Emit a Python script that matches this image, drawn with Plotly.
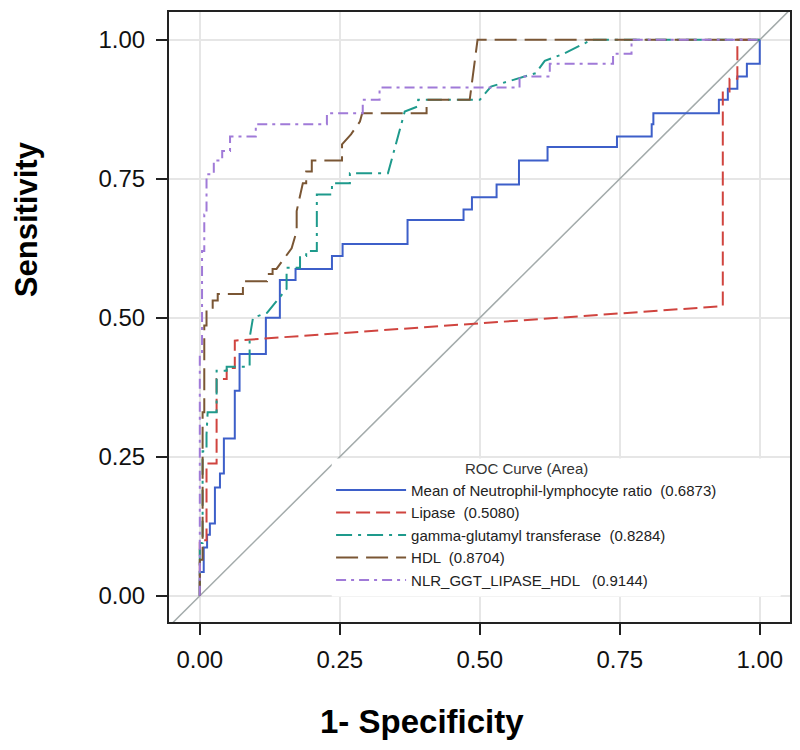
import plotly.graph_objects as go

# ROC curves (x = 1 - specificity, y = sensitivity)
nlr_x = [0, 0, 0.007, 0.007, 0.013, 0.013, 0.018, 0.018, 0.027, 0.027, 0.036, 0.036, 0.043, 0.043,
         0.0625, 0.0625, 0.071, 0.071, 0.118, 0.118, 0.143, 0.143, 0.171, 0.171, 0.236, 0.236,
         0.255, 0.255, 0.371, 0.371, 0.471, 0.471, 0.486, 0.486, 0.53, 0.53, 0.57, 0.57, 0.621,
         0.621, 0.745, 0.745, 0.807, 0.807, 0.81, 0.81, 0.927, 0.927, 0.943, 0.943, 0.96, 0.96,
         0.977, 0.977, 1.0, 1.0]
nlr_y = [0, 0.043, 0.043, 0.087, 0.087, 0.11, 0.11, 0.13, 0.13, 0.195, 0.195, 0.22, 0.22, 0.283,
         0.283, 0.369, 0.369, 0.435, 0.435, 0.5, 0.5, 0.568, 0.568, 0.588, 0.588, 0.611,
         0.611, 0.633, 0.633, 0.676, 0.676, 0.695, 0.695, 0.717, 0.717, 0.74, 0.74, 0.783, 0.783,
         0.807, 0.807, 0.826, 0.826, 0.848, 0.848, 0.868, 0.868, 0.892, 0.892, 0.912, 0.912, 0.934,
         0.934, 0.957, 0.957, 1.0]

lipase_x = [0, 0, 0.012, 0.012, 0.03, 0.03, 0.048, 0.048, 0.0625, 0.0625, 0.934, 0.934, 0.946,
            0.946, 0.96, 0.96, 1.0]
lipase_y = [0, 0.1, 0.1, 0.238, 0.238, 0.39, 0.39, 0.41, 0.41, 0.459, 0.521, 0.907, 0.907,
            0.93, 0.93, 1.0, 1.0]

ggt_x = [0, 0, 0.005, 0.005, 0.012, 0.012, 0.014, 0.03, 0.03, 0.048, 0.048, 0.089, 0.089, 0.095,
         0.12, 0.155, 0.155, 0.179, 0.179, 0.19, 0.19, 0.209, 0.209, 0.236, 0.236, 0.268, 0.268,
         0.336, 0.366, 0.389, 0.39, 0.5, 0.52, 0.55, 0.57, 0.60, 0.616, 0.65, 0.70, 1.0]
ggt_y = [0, 0.095, 0.095, 0.26, 0.26, 0.29, 0.33, 0.33, 0.405, 0.405, 0.412, 0.412, 0.464, 0.5,
         0.509, 0.552, 0.59, 0.59, 0.611, 0.611, 0.62, 0.62, 0.722, 0.722, 0.742, 0.742, 0.76,
         0.76, 0.871, 0.88, 0.892, 0.892, 0.916, 0.925, 0.93, 0.94, 0.962, 0.975, 1.0, 1.0]

hdl_x = [0, 0, 0.005, 0.005, 0.008, 0.008, 0.012, 0.012, 0.023, 0.023, 0.032, 0.032, 0.077, 0.077,
         0.12, 0.12, 0.13, 0.13, 0.137, 0.164, 0.173, 0.173, 0.184, 0.19, 0.19, 0.2, 0.2, 0.254,
         0.254, 0.27, 0.286, 0.29, 0.405, 0.405, 0.482, 0.49, 0.496, 1.0]
hdl_y = [0, 0.065, 0.065, 0.33, 0.33, 0.486, 0.486, 0.518, 0.518, 0.531, 0.531, 0.543, 0.543, 0.566,
         0.566, 0.579, 0.579, 0.588, 0.588, 0.625, 0.656, 0.692, 0.742, 0.742, 0.763, 0.763, 0.783,
         0.783, 0.812, 0.83, 0.853, 0.868, 0.868, 0.892, 0.892, 0.95, 1.0, 1.0]

combo_x = [0, 0, 0.004, 0.004, 0.008, 0.008, 0.012, 0.012, 0.025, 0.025, 0.04, 0.04, 0.054, 0.054,
           0.1, 0.1, 0.227, 0.227, 0.291, 0.291, 0.321, 0.321, 0.571, 0.571, 0.625, 0.625, 0.738,
           0.738, 0.771, 0.771, 1.0]
combo_y = [0, 0.435, 0.435, 0.62, 0.62, 0.686, 0.686, 0.758, 0.758, 0.783, 0.783, 0.80, 0.80,
           0.826, 0.826, 0.848, 0.848, 0.868, 0.868, 0.892, 0.892, 0.914, 0.914, 0.934, 0.934,
           0.957, 0.957, 0.975, 0.975, 1.0, 1.0]

names = ["Mean of Neutrophil-lymphocyte ratio  (0.6873)", "Lipase  (0.5080)",
         "gamma-glutamyl transferase  (0.8284)", "HDL  (0.8704)", "NLR_GGT_LIPASE_HDL   (0.9144)"]
colors = ["#3d5fc9", "#d0443f", "#1e9a8c", "#7a5634", "#a07ad8"]
dashes = ["solid", "14px,6px", "16px,6px,3px,6px", "22px,8px", "10px,5px,3px,5px"]

diag = [-0.1, 1.1]
ticks = [0, 0.25, 0.5, 0.75, 1.0]
tick_text = ["0.00", "0.25", "0.50", "0.75", "1.00"]

fig = go.Figure()

# linha de referência (diagonal)
fig.add_trace(go.Scatter(x=diag, y=diag, mode="lines", showlegend=False,
                         line=dict(color="#a3abab", width=1.5), hoverinfo="skip"))

curves = [(nlr_x, nlr_y), (lipase_x, lipase_y), (ggt_x, ggt_y), (hdl_x, hdl_y), (combo_x, combo_y)]
for (xs, ys), nm, col, ds in zip(curves, names, colors, dashes):
    fig.add_trace(go.Scatter(x=xs, y=ys, mode="lines", name=nm,
                             line=dict(color=col, width=2, dash=ds)))

axis_common = dict(
    tickvals=ticks, ticktext=tick_text,
    showgrid=True, gridcolor="#e6e6e6", gridwidth=1.5,
    zeroline=False, showline=True, linecolor="#222222", linewidth=2, mirror=True,
    ticks="outside", ticklen=11, tickwidth=1.5, tickcolor="#222222",
    tickfont=dict(family="Liberation Sans, Arial", size=24, color="#111111"),
)

fig.update_xaxes(range=[-0.055, 1.054], ticklabelstandoff=4, **axis_common)
fig.update_yaxes(range=[-0.047, 1.05], ticklabelstandoff=6, **axis_common)

fig.add_annotation(text="<b>Sensitivity</b>", xref="paper", yref="paper",
                   x=-0.229, y=0.66, xanchor="center", yanchor="middle",
                   textangle=-90, showarrow=False,
                   font=dict(family="Liberation Sans, Arial", size=31, color="#000000"))
fig.add_annotation(text="<b>1- Specificity</b>", xref="paper", yref="paper",
                   x=0.407, y=-0.163, xanchor="center", yanchor="middle", showarrow=False,
                   font=dict(family="Liberation Sans, Arial", size=33, color="#000000"))

# fundo branco da legenda (cobre a grade)
fig.add_shape(type="rect", xref="paper", yref="paper", layer="above",
              x0=0.262, x1=0.985, y0=0.042, y1=0.268,
              fillcolor="white", line=dict(width=0))

fig.update_layout(
    width=800, height=750,
    margin=dict(l=161, r=18, t=2, b=136),
    plot_bgcolor="white", paper_bgcolor="white",
    font=dict(family="Liberation Sans, Arial", color="#222222"),
    legend=dict(
        x=0.261, y=0.275, xanchor="left", yanchor="top",
        bgcolor="rgba(0,0,0,0)", borderwidth=0,
        title=dict(text="ROC Curve (Area)", side="top center",
                   font=dict(size=15, color="#333333")),
        font=dict(size=15, color="#222222"),
        itemwidth=70, tracegroupgap=0,
    ),
)

fig.write_html("out.html")
